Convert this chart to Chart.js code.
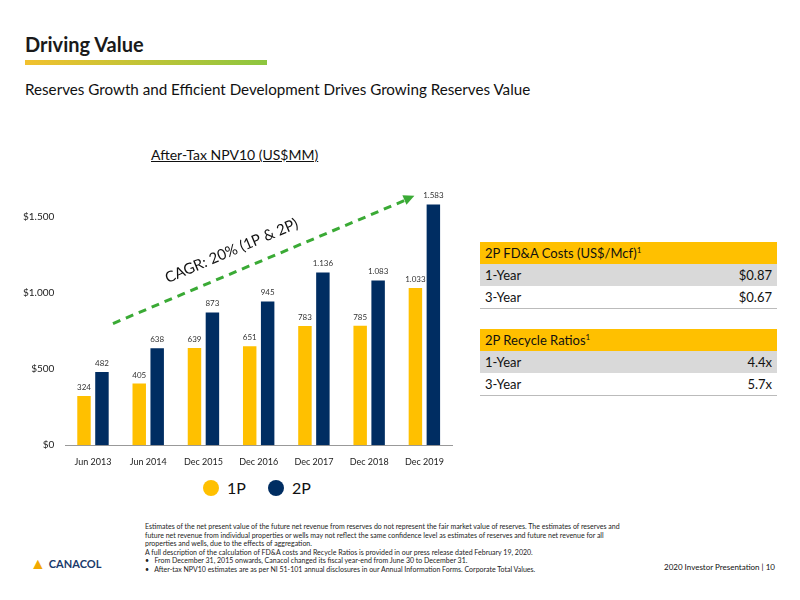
<!DOCTYPE html>
<html><head><meta charset="utf-8">
<script src="https://cdn.jsdelivr.net/npm/chart.js@4"></script>
<style>
body{margin:0;width:800px;height:600px;position:relative;background:#fff;font-family:Lato,"Open Sans",sans-serif;overflow:hidden;color:#111}
.abs{position:absolute}
table{border-collapse:collapse;width:297px;font-size:13px}
td{padding:3px 5px;height:16px}
.h td{background:#FFC000;color:#111}
.g td{background:#D9D9D9}
.w td{border-bottom:1px solid #bbb}
.r{text-align:right}
</style></head><body>
<div class="abs" style="left:25px;top:32px;font-size:20px;font-weight:bold;color:#1a1a1a">Driving Value</div>
<div class="abs" style="left:25px;top:60px;width:242px;height:5px;background:linear-gradient(90deg,#f2c12e,#8cc63f)"></div>
<div class="abs" style="left:25px;top:80px;font-size:15.2px;color:#111">Reserves Growth and Efficient Development Drives Growing Reserves Value</div>
<div class="abs" style="left:151px;top:146px;font-size:14px;text-decoration:underline">After-Tax NPV10 (US$MM)</div>
<div class="abs" style="left:20px;top:170px;width:440px;height:300px"><canvas id="c"></canvas></div>
<div class="abs" style="left:203px;top:478px;font-size:16px;display:flex;align-items:center">
<span style="width:16px;height:16px;border-radius:50%;background:#FFC000;display:inline-block;margin-right:8px"></span>1P
<span style="width:16px;height:16px;border-radius:50%;background:#002D62;display:inline-block;margin:0 8px 0 22px"></span>2P</div>
<table class="abs" style="left:480px;top:242px">
<tr class="h"><td colspan="2">2P FD&amp;A Costs (US$/Mcf)<sup style="font-size:8px">1</sup></td></tr>
<tr class="g"><td>1-Year</td><td class="r">$0.87</td></tr>
<tr class="w"><td>3-Year</td><td class="r">$0.67</td></tr></table>
<table class="abs" style="left:480px;top:329px">
<tr class="h"><td colspan="2">2P Recycle Ratios<sup style="font-size:8px">1</sup></td></tr>
<tr class="g"><td>1-Year</td><td class="r">4.4x</td></tr>
<tr class="w"><td>3-Year</td><td class="r">5.7x</td></tr></table>
<div class="abs" style="left:145px;top:522px;width:475px;font-size:7px;line-height:8.6px;color:#222">Estimates of the net present value of the future net revenue from reserves do not represent the fair market value of reserves. The estimates of reserves and future net revenue from individual properties or wells may not reflect the same confidence level as estimates of reserves and future net revenue for all properties and wells, due to the effects of aggregation.<br>A full description of the calculation of FD&amp;A costs and Recycle Ratios is provided in our press release dated February 19, 2020.<br>&bull;&nbsp;&nbsp;&nbsp;From December 31, 2015 onwards, Canacol changed its fiscal year-end from June 30 to December 31.<br>&bull;&nbsp;&nbsp;&nbsp;After-tax NPV10 estimates are as per NI 51-101 annual disclosures in our Annual Information Forms. Corporate Total Values.</div>
<div class="abs" style="left:30px;top:553px;font-size:11px;font-weight:bold;color:#1a3a6b;display:flex;align-items:center"><span style="color:#f2a900;font-size:16px;margin-right:3px">&#9650;</span>CANACOL</div>
<div class="abs" style="left:664px;top:562px;font-size:8px">2020 Investor Presentation | 10</div>
<script>
const categories=["Jun 2013","Jun 2014","Dec 2015","Dec 2016","Dec 2017","Dec 2018","Dec 2019"];
const values1P=[324,405,639,651,783,785,1033];
const values2P=[482,638,873,945,1136,1083,1583];
const tickValues=[0,500,1000,1500];
const fmt=v=>v.toLocaleString('en-US').replace(/,/g,'.');
const labels={id:'lbl',afterDatasetsDraw(ch){const c=ch.ctx;c.save();c.font='8px Lato';c.fillStyle='#333';c.textAlign='center';
ch.data.datasets.forEach((d,i)=>ch.getDatasetMeta(i).data.forEach((b,j)=>c.fillText(fmt(d.data[j]),b.x,b.y-6)));
const x=ch.scales.x,y=ch.scales.y;const x0=x.getPixelForValue(0)+20,y0=y.getPixelForValue(800),x1=x.getPixelForValue(6)-10,y1=y.getPixelForValue(1640);
c.strokeStyle='#3aaa35';c.lineWidth=3;c.setLineDash([8,6]);c.beginPath();c.moveTo(x0,y0);c.lineTo(x1-8,y1+4);c.stroke();c.setLineDash([]);
const a=Math.atan2(y1-y0,x1-x0);c.fillStyle='#3aaa35';c.beginPath();c.moveTo(x1,y1);c.lineTo(x1-12*Math.cos(a-0.45),y1-12*Math.sin(a-0.45));c.lineTo(x1-12*Math.cos(a+0.45),y1-12*Math.sin(a+0.45));c.fill();
c.save();c.translate(x.getPixelForValue(2.6),y.getPixelForValue(1200));c.rotate(a);c.font='15px Lato';c.fillStyle='#111';c.fillText('CAGR: 20% (1P & 2P)',0,-8);c.restore();c.restore();}};
new Chart(document.getElementById('c'),{type:'bar',data:{labels:categories,datasets:[
{data:values1P,backgroundColor:'#FFC000',barPercentage:0.75,categoryPercentage:0.65},
{data:values2P,backgroundColor:'#002D62',barPercentage:0.75,categoryPercentage:0.65}]},
options:{responsive:true,maintainAspectRatio:false,animation:false,plugins:{legend:{display:false},tooltip:{enabled:false}},
layout:{padding:{right:8}},
scales:{x:{grid:{display:false},border:{color:'#999'},ticks:{color:'#222',font:{size:9,family:'Lato'}}},
y:{min:0,max:1750,afterBuildTicks:s=>{s.ticks=tickValues.map(v=>({value:v}))},grid:{display:false},border:{display:false},ticks:{color:'#222',font:{size:10,family:'Lato'},callback:v=>'$'+fmt(v)}}}},
plugins:[labels]});
</script></body></html>
